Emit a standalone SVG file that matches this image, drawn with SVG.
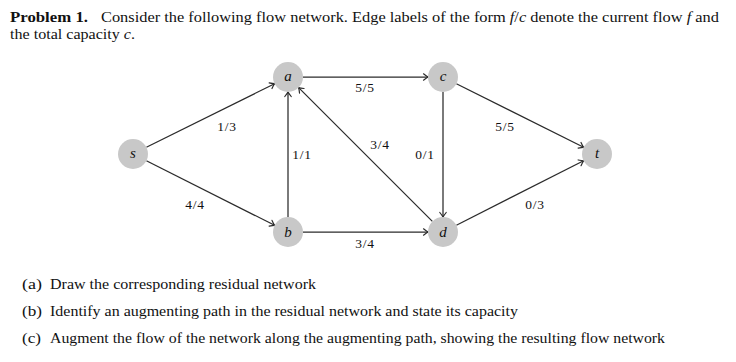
<svg xmlns="http://www.w3.org/2000/svg" width="736" height="362" viewBox="0 0 736 362">
<style>
text{font-family:"Liberation Serif","DejaVu Serif",serif;fill:#111}
.t{font-size:14.5px}
.b{font-weight:bold}
.i{font-style:italic}
.nl{font-size:15px;font-style:italic;text-anchor:middle}
.el{font-size:13.5px;text-anchor:middle;letter-spacing:0.8px}
.node circle{fill:#c8c8c8}
.edge{stroke:#2b2b2b;stroke-width:1.25;fill:none;marker-end:url(#ah)}
</style>
<defs>
<marker id="ah" viewBox="-6 -5 8 10" markerWidth="8" markerHeight="10" refX="0" refY="0" orient="auto" markerUnits="userSpaceOnUse">
<path d="M-4.5,-3.2 Q-1.5,-0.8 0,0 Q-1.5,0.8 -4.5,3.2" fill="none" stroke="#2b2b2b" stroke-width="1.2" stroke-linecap="round"/>
</marker>
</defs>
<rect width="736" height="362" fill="#fff"/>
<text class="t b" x="10" y="22" textLength="78" lengthAdjust="spacingAndGlyphs">Problem 1.</text>
<text class="t" x="101" y="22" textLength="618" lengthAdjust="spacingAndGlyphs">Consider the following flow network. Edge labels of the form <tspan class="i">f</tspan>/<tspan class="i">c</tspan> denote the current flow <tspan class="i">f</tspan> and</text>
<text class="t" x="10" y="39" textLength="125" lengthAdjust="spacingAndGlyphs">the total capacity <tspan class="i">c</tspan>.</text>
<g id="connectors">
<line class="edge" x1="146.4" y1="147.3" x2="274.6" y2="83.7"/>
<line class="edge" x1="146.4" y1="160.7" x2="274.6" y2="225.3"/>
<line class="edge" x1="288" y1="217" x2="288" y2="92"/>
<line class="edge" x1="303" y1="77" x2="428" y2="77"/>
<line class="edge" x1="432.4" y1="221.4" x2="298.6" y2="87.6"/>
<line class="edge" x1="443" y1="92" x2="443" y2="217"/>
<line class="edge" x1="303" y1="232" x2="428" y2="232"/>
<line class="edge" x1="456.4" y1="83.7" x2="583.6" y2="147.3"/>
<line class="edge" x1="456.4" y1="225.2" x2="583.6" y2="160.8"/>
<text class="el" x="227" y="131">1/3</text>
<text class="el" x="195" y="209">4/4</text>
<text class="el" x="302" y="159">1/1</text>
<text class="el" x="380" y="149">3/4</text>
<text class="el" x="425" y="159">0/1</text>
<text class="el" x="365" y="92">5/5</text>
<text class="el" x="365" y="248">3/4</text>
<text class="el" x="505" y="131">5/5</text>
<text class="el" x="535" y="209">0/3</text>
</g>
<g id="node-s" class="node"><circle cx="133" cy="154" r="15"/><text class="nl" x="133" y="158">s</text></g>
<g id="node-a" class="node"><circle cx="288" cy="77" r="15"/><text class="nl" x="288" y="81">a</text></g>
<g id="node-c" class="node"><circle cx="443" cy="77" r="15"/><text class="nl" x="443" y="81">c</text></g>
<g id="node-b" class="node"><circle cx="288" cy="232" r="15"/><text class="nl" x="288" y="237">b</text></g>
<g id="node-d" class="node"><circle cx="443" cy="232" r="15"/><text class="nl" x="443" y="237">d</text></g>
<g id="node-t" class="node"><circle cx="597" cy="154" r="15"/><text class="nl" x="597" y="158">t</text></g>
<text class="t" x="22" y="289" textLength="20" lengthAdjust="spacingAndGlyphs">(a)</text>
<text class="t" x="50" y="289" textLength="266" lengthAdjust="spacingAndGlyphs">Draw the corresponding residual network</text>
<text class="t" x="22" y="316" textLength="20" lengthAdjust="spacingAndGlyphs">(b)</text>
<text class="t" x="50" y="316" textLength="468" lengthAdjust="spacingAndGlyphs">Identify an augmenting path in the residual network and state its capacity</text>
<text class="t" x="22" y="343" textLength="19" lengthAdjust="spacingAndGlyphs">(c)</text>
<text class="t" x="50" y="343" textLength="615" lengthAdjust="spacingAndGlyphs">Augment the flow of the network along the augmenting path, showing the resulting flow network</text>
</svg>
